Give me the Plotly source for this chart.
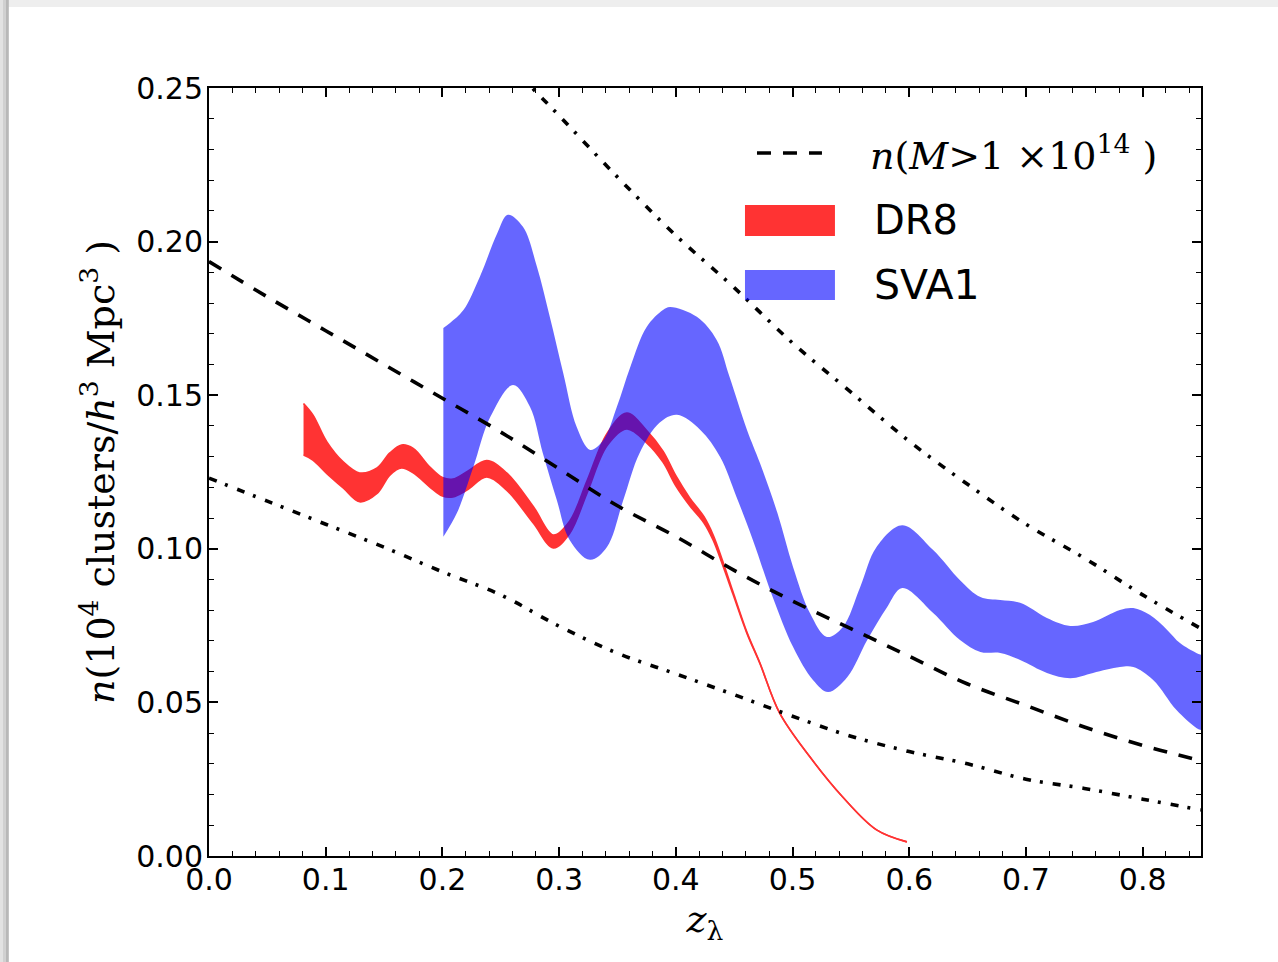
import plotly.graph_objects as go

# ---- model curves: cluster number density vs redshift ----
z_model = [0.00, 0.05, 0.10, 0.15, 0.20, 0.25, 0.30, 0.35, 0.40,
           0.45, 0.50, 0.55, 0.60, 0.65, 0.70, 0.75, 0.80, 0.85]
n_mass_cut = [0.1935, 0.1820, 0.1710, 0.1600, 0.1490, 0.1380, 0.1260, 0.1140, 0.1040,
              0.0930, 0.0830, 0.0740, 0.0650, 0.0560, 0.0490, 0.0420, 0.0360, 0.0310]
n_low_bound = [0.1230, 0.1155, 0.1080, 0.1005, 0.0925, 0.0850, 0.0748, 0.0660, 0.0593,
               0.0525, 0.0455, 0.0390, 0.0340, 0.0300, 0.0250, 0.0220, 0.0185, 0.0150]

z_high = [0.25, 0.277, 0.30, 0.35, 0.40, 0.45, 0.50, 0.55, 0.60, 0.65, 0.70, 0.75, 0.80, 0.85]
n_high_bound = [0.2610, 0.2500, 0.2410, 0.2210, 0.2020, 0.1850, 0.1670, 0.1510, 0.1350,
                0.1210, 0.1080, 0.0970, 0.0850, 0.0740]

# ---- DR8 density band ----
dr8_z = [0.081, 0.089, 0.101, 0.115, 0.129, 0.144, 0.155, 0.165, 0.175, 0.189, 0.200,
         0.209, 0.221, 0.238, 0.255, 0.278, 0.295, 0.309, 0.324, 0.341, 0.358, 0.375,
         0.389, 0.400, 0.412, 0.424, 0.432, 0.440, 0.449, 0.461, 0.472, 0.489, 0.515,
         0.543, 0.572, 0.598]
dr8_hi = [0.1473, 0.1436, 0.1348, 0.1283, 0.1247, 0.1263, 0.1312, 0.1338, 0.1327, 0.1267, 0.1232,
          0.1227, 0.1251, 0.1287, 0.1247, 0.1137, 0.1045, 0.1090, 0.1222, 0.1375, 0.1442, 0.1385,
          0.1318, 0.1238, 0.1165, 0.1105, 0.1045, 0.0962, 0.0860, 0.0728, 0.0629, 0.0465, 0.0322,
          0.0192, 0.0085, 0.0046]
dr8_lo = [0.1305, 0.1289, 0.1245, 0.1198, 0.1153, 0.1180, 0.1240, 0.1263, 0.1247, 0.1202, 0.1172,
          0.1169, 0.1191, 0.1234, 0.1191, 0.1083, 0.1003, 0.1050, 0.1182, 0.1335, 0.1390, 0.1345,
          0.1282, 0.1205, 0.1140, 0.1085, 0.1028, 0.0948, 0.0852, 0.0724, 0.0627, 0.0465, 0.0322,
          0.0192, 0.0085, 0.0046]

# ---- SVA1 density band ----
sva1_z_hi = [0.2008, 0.2065, 0.218, 0.232, 0.247, 0.256, 0.269, 0.281, 0.292, 0.3035, 0.315,
             0.3266, 0.338, 0.3495, 0.361, 0.375, 0.389, 0.395, 0.418, 0.435, 0.446, 0.461,
             0.472, 0.487, 0.5005, 0.515, 0.5295, 0.543, 0.558, 0.572, 0.594, 0.6205, 0.6435,
             0.661, 0.678, 0.695, 0.718, 0.738, 0.7575, 0.7805, 0.792, 0.806, 0.821, 0.832,
             0.846, 0.85]
sva1_hi = [0.1719, 0.1735, 0.1777, 0.1885, 0.2027, 0.2087, 0.2048, 0.1918, 0.1755, 0.1572, 0.1397,
           0.1322, 0.1354, 0.1462, 0.1592, 0.1722, 0.1777, 0.1787, 0.1755, 0.1680, 0.1560, 0.1387,
           0.1280, 0.1117, 0.0940, 0.0790, 0.0713, 0.0745, 0.0876, 0.1006, 0.1077, 0.0996, 0.0898,
           0.0843, 0.0833, 0.0824, 0.0775, 0.0749, 0.0762, 0.0801, 0.0807, 0.0785, 0.0736, 0.0693,
           0.0661, 0.0655]
sva1_z_lo = [0.2008, 0.2125, 0.2265, 0.241, 0.2605, 0.275, 0.286, 0.298, 0.309, 0.3265, 0.341,
             0.355, 0.369, 0.386, 0.401, 0.421, 0.438, 0.452, 0.466, 0.483, 0.5005, 0.5175,
             0.5305, 0.547, 0.564, 0.581, 0.594, 0.6205, 0.6435, 0.661, 0.678, 0.695, 0.718,
             0.738, 0.7575, 0.7805, 0.792, 0.809, 0.829, 0.846, 0.85]
sva1_lo = [0.1039, 0.1117, 0.1266, 0.1429, 0.1533, 0.1462, 0.1312, 0.1159, 0.1029, 0.0964, 0.1006,
           0.1159, 0.1312, 0.1410, 0.1436, 0.1387, 0.1299, 0.1169, 0.1029, 0.0843, 0.0680, 0.0573,
           0.0534, 0.0583, 0.0703, 0.0810, 0.0872, 0.0791, 0.0703, 0.0664, 0.0661, 0.0638, 0.0596,
           0.0579, 0.0596, 0.0615, 0.0615, 0.0573, 0.0475, 0.0417, 0.0410]

RED = "#ff3333"
BLUE_FILL = "rgba(0,0,255,0.6)"
SERIF = "DejaVu Serif"
SANS = "DejaVu Sans"

fig = go.Figure()

# DR8 band (lower edge, then upper edge filled down to it)
fig.add_trace(go.Scatter(x=dr8_z, y=dr8_lo, mode="lines", line=dict(color=RED, width=1.6, shape="spline"),
                         showlegend=False, hoverinfo="skip"))
fig.add_trace(go.Scatter(x=dr8_z, y=dr8_hi, mode="lines", name="DR8", fill="tonexty", fillcolor=RED,
                         line=dict(color=RED, width=1.6, shape="spline"), showlegend=False))

# SVA1 band
fig.add_trace(go.Scatter(x=sva1_z_lo, y=sva1_lo, mode="lines", line=dict(color="rgba(0,0,0,0)", width=0, shape="spline"),
                         showlegend=False, hoverinfo="skip"))
fig.add_trace(go.Scatter(x=sva1_z_hi, y=sva1_hi, mode="lines", name="SVA1", fill="tonexty", fillcolor=BLUE_FILL,
                         line=dict(color="rgba(0,0,0,0)", width=0, shape="spline"), showlegend=False))

# model predictions
fig.add_trace(go.Scatter(x=z_model, y=n_mass_cut, mode="lines", name="n(M>1e14)",
                         line=dict(color="black", width=3.6, dash="14px,12px", shape="spline"), showlegend=False))
fig.add_trace(go.Scatter(x=z_model, y=n_low_bound, mode="lines",
                         line=dict(color="black", width=3.6, dash="8px,9px,3px,10px", shape="spline"), showlegend=False))
fig.add_trace(go.Scatter(x=z_high, y=n_high_bound, mode="lines",
                         line=dict(color="black", width=3.6, dash="8px,9px,3px,10px", shape="spline"), showlegend=False))

axis_common = dict(
    showline=True, linecolor="black", linewidth=2, mirror="allticks",
    ticks="inside", ticklen=9, tickwidth=1.5, tickcolor="black",
    showgrid=False, zeroline=False,
    tickfont=dict(family=SANS, size=30, color="black"),
)

fig.update_xaxes(range=[0, 0.85], tick0=0, dtick=0.1, tickformat=".1f",
                 minor=dict(ticks="inside", dtick=0.02, ticklen=5, tickwidth=1.2, tickcolor="black", showgrid=False),
                 ticklabelstandoff=-4,
                 title=dict(text="<i>z</i><sub>λ</sub>", font=dict(family=SERIF, size=38, color="black"), standoff=4),
                 **axis_common)
fig.update_yaxes(range=[0, 0.25], tick0=0, dtick=0.05, tickformat=".2f",
                 minor=dict(ticks="inside", dtick=0.01, ticklen=5, tickwidth=1.2, tickcolor="black", showgrid=False),
                 ticklabelstandoff=-2,
                 title=dict(text="<i>n</i>(10<sup>4</sup> clusters/<i>h</i><sup>3</sup> Mpc<sup>3</sup> )",
                            font=dict(family=SERIF, size=38, color="black"), standoff=10),
                 **axis_common)

# page frame: light grey strips along the top and left edges
shapes = [
    dict(type="rect", xref="paper", yref="paper", x0=-0.2107, x1=1.0776, y0=1.1055, y1=1.1146,
         fillcolor="#eeeeee", line_width=0, layer="below"),
    dict(type="rect", xref="paper", yref="paper", x0=-0.2107, x1=-0.2077, y0=-0.14, y1=1.1146,
         fillcolor="#e2e2e2", line_width=0, layer="below"),
    dict(type="rect", xref="paper", yref="paper", x0=-0.2077, x1=-0.2047, y0=-0.14, y1=1.1146,
         fillcolor="#d0d0d0", line_width=0, layer="below"),
    dict(type="rect", xref="paper", yref="paper", x0=-0.2047, x1=-0.2018, y0=-0.14, y1=1.1146,
         fillcolor="#b8b8b8", line_width=0, layer="below"),
]

# legend swatches
shapes += [
    dict(type="line", xref="paper", yref="paper", x0=0.5524, x1=0.6179, y0=0.9154, y1=0.9154,
         line=dict(color="black", width=3.6, dash="14px,12px")),
    dict(type="rect", xref="paper", yref="paper", x0=0.5403, x1=0.6310, y0=0.8073, y1=0.8477,
         fillcolor=RED, line_width=0),
    dict(type="rect", xref="paper", yref="paper", x0=0.5403, x1=0.6310, y0=0.7240, y1=0.7630,
         fillcolor=BLUE_FILL, line_width=0),
]

annotations = [
    dict(xref="paper", yref="paper", x=0.6643, y=0.9154, xanchor="left", yanchor="middle", showarrow=False,
         text="<i>n</i>(<i>M</i>>1 ×10<sup>14</sup> )", font=dict(family=SERIF, size=38, color="black")),
    dict(xref="paper", yref="paper", x=0.6683, y=0.8281, xanchor="left", yanchor="middle", showarrow=False,
         text="DR8", font=dict(family=SANS, size=40, color="black")),
    dict(xref="paper", yref="paper", x=0.6683, y=0.7435, xanchor="left", yanchor="middle", showarrow=False,
         text="SVA1", font=dict(family=SANS, size=41, color="black")),
]

fig.update_layout(
    width=1278, height=962,
    margin=dict(l=209, r=77, t=88, b=106),
    paper_bgcolor="white", plot_bgcolor="white",
    shapes=shapes, annotations=annotations,
    showlegend=False,
)

fig.write_html("out.html")
